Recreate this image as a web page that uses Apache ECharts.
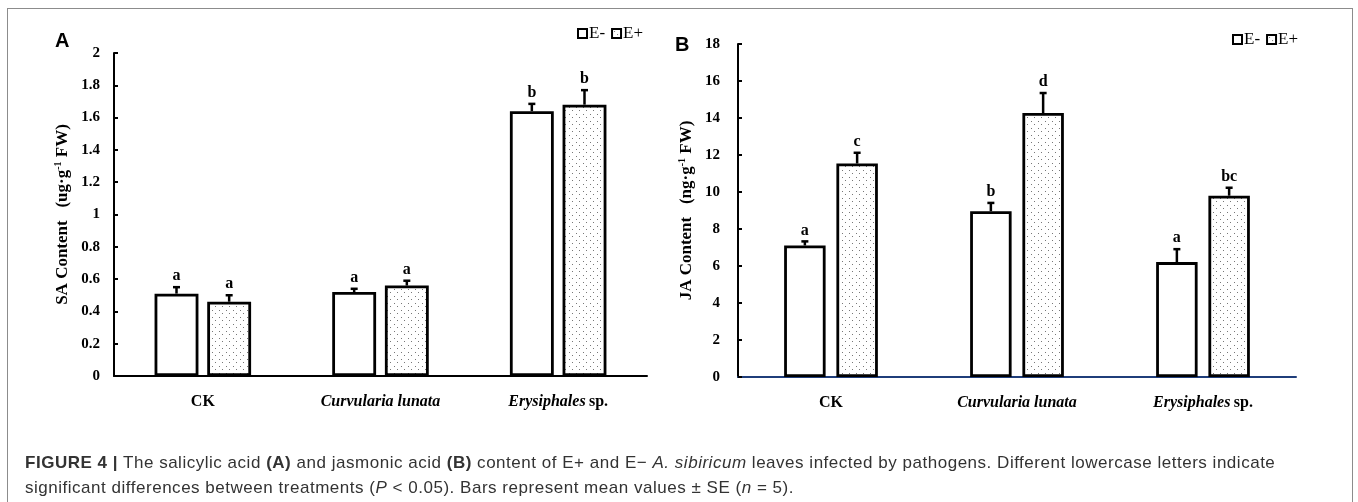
<!DOCTYPE html>
<html>
<head>
<meta charset="utf-8">
<script src="https://cdn.jsdelivr.net/npm/echarts@6/dist/echarts.min.js"></script>
<style>
  html, body { margin: 0; padding: 0; background: #fff; }
  #wrap { position: relative; width: 1358px; height: 502px; overflow: hidden; }
  #frame { position: absolute; left: 7px; top: 8px; width: 1346px; height: 520px; border: 1.5px solid #8c8c8c; box-sizing: border-box; }
  #chart { position: absolute; left: 0; top: 0; width: 1358px; height: 502px; }
  #caption { position: absolute; left: 25px; top: 450px; font-family: "Liberation Sans", Arial, sans-serif; font-size: 17px; letter-spacing: 0.52px; line-height: 25px; color: #333; white-space: nowrap; }
</style>
</head>
<body>
<div id="wrap">
  <div id="frame"></div>
  <div id="chart"></div>
  <div id="caption">
    <b>FIGURE 4 |</b> The salicylic acid <b>(A)</b> and jasmonic acid <b>(B)</b> content of E+ and E&minus; <i>A. sibiricum</i> leaves infected by pathogens. Different lowercase letters indicate<br>
    significant differences between treatments (<i>P</i> &lt; 0.05). Bars represent mean values &plusmn; SE (<i>n</i> = 5).
  </div>
</div>
<script>
// data
var categories = ['CK', 'Curvularia lunata', 'Erysiphales sp.']
var seriesNames = ['E-', 'E+']

// panel A: SA content (ug/g FW)
var saMinus = [0.51, 0.52, 1.64]
var saPlus = [0.46, 0.56, 1.68]
var saMinusErr = [0.04, 0.02, 0.045]
var saPlusErr = [0.04, 0.03, 0.09]
var saMinusLetters = ['a', 'a', 'b']
var saPlusLetters = ['a', 'a', 'b']

// panel B: JA content (ng/g FW)
var jaMinus = [7.11, 8.96, 6.21]
var jaPlus = [11.54, 14.27, 9.80]
var jaMinusErr = [0.22, 0.45, 0.70]
var jaPlusErr = [0.58, 1.08, 0.43]
var jaMinusLetters = ['a', 'b', 'a']
var jaPlusLetters = ['c', 'd', 'bc']

// y axis ticks
var saTicks = { min: 0, max: 2, interval: 0.2 }
var jaTicks = { min: 0, max: 18, interval: 2 }

var SERIF = '"Liberation Serif", "Times New Roman", serif'

// dotted fill for E+ bars
function dotPattern () {
  var c = document.createElement('canvas')
  c.width = 7
  c.height = 7
  var ctx = c.getContext('2d')
  ctx.fillStyle = '#fff'
  ctx.fillRect(0, 0, 7, 7)
  ctx.fillStyle = '#777'
  ctx.fillRect(2, 2, 1, 1)
  ctx.fillRect(5, 5, 1, 1)
  return c
}
var dots = { image: dotPattern(), repeat: 'repeat' }

function catLabel (v) {
  if (v === 'CK') return '{b|CK}'
  if (v === 'Erysiphales sp.') return '{i|Erysiphales} {b|sp.}'
  return '{i|' + v + '}'
}

var labelRich = {
  b: { fontFamily: SERIF, fontWeight: 'bold', fontSize: 16, color: '#000' },
  i: { fontFamily: SERIF, fontWeight: 'bold', fontStyle: 'italic', fontSize: 16, color: '#000' }
}

function nameRich () {
  return {
    n: { fontFamily: SERIF, fontWeight: 'bold', fontSize: 17, color: '#000' },
    s: { fontFamily: SERIF, fontWeight: 'bold', fontSize: 10, color: '#000', verticalAlign: 'top', padding: [0, 0, 9, 0] }
  }
}

// error bar + letter drawn over each bar
function errSeries (idx, values, errs, letters, side, barPct, gapPct) {
  return {
    type: 'custom',
    xAxisIndex: idx,
    yAxisIndex: idx,
    z: 5,
    silent: true,
    data: values.map(function (v, i) { return [i, v, errs[i]] }),
    renderItem: function (params, api) {
      var cat = api.value(0)
      var v = api.value(1)
      var e = api.value(2)
      var band = api.size([1, 0])[0]
      var w = band * barPct
      var x = api.coord([cat, v])[0] + side * w * (1 + gapPct) / 2
      var y0 = api.coord([cat, v])[1]
      var y1 = api.coord([cat, v + e])[1]
      var ls = { stroke: '#000', lineWidth: 2.5 }
      return {
        type: 'group',
        children: [
          { type: 'line', shape: { x1: x, y1: y0, x2: x, y2: y1 }, style: ls },
          { type: 'line', shape: { x1: x - 3.5, y1: y1, x2: x + 3.5, y2: y1 }, style: ls },
          {
            type: 'text',
            x: x,
            y: y1 - 3,
            style: {
              text: letters[params.dataIndex],
              font: 'bold 16px ' + SERIF,
              fill: '#000',
              align: 'center',
              verticalAlign: 'bottom'
            }
          }
        ]
      }
    }
  }
}

function barSeries (idx, name, values, fill, barPct, gapPct) {
  return {
    type: 'bar',
    name: name,
    xAxisIndex: idx,
    yAxisIndex: idx,
    data: values,
    barWidth: (barPct * 100) + '%',
    barGap: (gapPct * 100) + '%',
    itemStyle: { color: fill, borderColor: '#000', borderWidth: 2.8 },
    emphasis: { disabled: true },
    animation: false
  }
}

function legendAt (left, top) {
  return {
    data: seriesNames,
    left: left,
    top: top,
    icon: 'rect',
    itemWidth: 9,
    itemHeight: 9,
    itemGap: 6,
    padding: 0,
    selectedMode: false,
    textStyle: { fontFamily: SERIF, fontSize: 17, color: '#000', padding: [0, 0, 0, -3] }
  }
}

var A_BAR = 0.247, A_GAP = 0.2
var B_BAR = 0.223, B_GAP = 0.26

var chart = echarts.init(document.getElementById('chart'))
chart.setOption({
  animation: false,
  legend: [legendAt(577, 25), legendAt(1232, 31)],
  graphic: [
    { type: 'text', left: 55, top: 31, style: { text: 'A', font: 'bold 20px "Liberation Sans", Arial, sans-serif', fill: '#000' } },
    { type: 'text', left: 675, top: 35, style: { text: 'B', font: 'bold 20px "Liberation Sans", Arial, sans-serif', fill: '#000' } }
  ],
  grid: [
    { left: 114, right: 711, top: 53, bottom: 126 },
    { left: 738, right: 62, top: 44, bottom: 125 }
  ],
  xAxis: [
    {
      type: 'category',
      gridIndex: 0,
      data: categories,
      axisLine: { lineStyle: { color: '#000', width: 2 } },
      axisTick: { length: 4, lineStyle: { color: '#000', width: 2 } },
      axisLabel: { margin: 18, formatter: catLabel, rich: labelRich }
    },
    {
      type: 'category',
      gridIndex: 1,
      data: categories,
      axisLine: { lineStyle: { color: '#1f3d7a', width: 2 } },
      axisTick: { length: 4, lineStyle: { color: '#1f3d7a', width: 2 } },
      axisLabel: { margin: 18, formatter: catLabel, rich: labelRich }
    }
  ],
  yAxis: [
    {
      type: 'value',
      gridIndex: 0,
      min: saTicks.min,
      max: saTicks.max,
      interval: saTicks.interval,
      splitLine: { show: false },
      axisLine: { show: true, lineStyle: { color: '#000', width: 2 } },
      axisTick: { show: true, inside: true, length: 4, lineStyle: { color: '#000', width: 2 } },
      axisLabel: { margin: 14, fontFamily: SERIF, fontWeight: 'bold', fontSize: 15, color: '#000' },
      name: '{n|SA Content   (ug·g}{s|-1}{n| FW)}',
      nameLocation: 'middle',
      nameGap: 42,
      nameTextStyle: { rich: nameRich() }
    },
    {
      type: 'value',
      gridIndex: 1,
      min: jaTicks.min,
      max: jaTicks.max,
      interval: jaTicks.interval,
      splitLine: { show: false },
      axisLine: { show: true, lineStyle: { color: '#000', width: 2 } },
      axisTick: { show: true, inside: true, length: 4, lineStyle: { color: '#000', width: 2 } },
      axisLabel: { margin: 18, fontFamily: SERIF, fontWeight: 'bold', fontSize: 15, color: '#000' },
      name: '{n|JA Content   (ng·g}{s|-1}{n| FW)}',
      nameLocation: 'middle',
      nameGap: 42,
      nameTextStyle: { rich: nameRich() }
    }
  ],
  series: [
    barSeries(0, 'E-', saMinus, '#fff', A_BAR, A_GAP),
    barSeries(0, 'E+', saPlus, dots, A_BAR, A_GAP),
    barSeries(1, 'E-', jaMinus, '#fff', B_BAR, B_GAP),
    barSeries(1, 'E+', jaPlus, dots, B_BAR, B_GAP),
    errSeries(0, saMinus, saMinusErr, saMinusLetters, -1, A_BAR, A_GAP),
    errSeries(0, saPlus, saPlusErr, saPlusLetters, 1, A_BAR, A_GAP),
    errSeries(1, jaMinus, jaMinusErr, jaMinusLetters, -1, B_BAR, B_GAP),
    errSeries(1, jaPlus, jaPlusErr, jaPlusLetters, 1, B_BAR, B_GAP)
  ]
})
</script>
</body>
</html>
